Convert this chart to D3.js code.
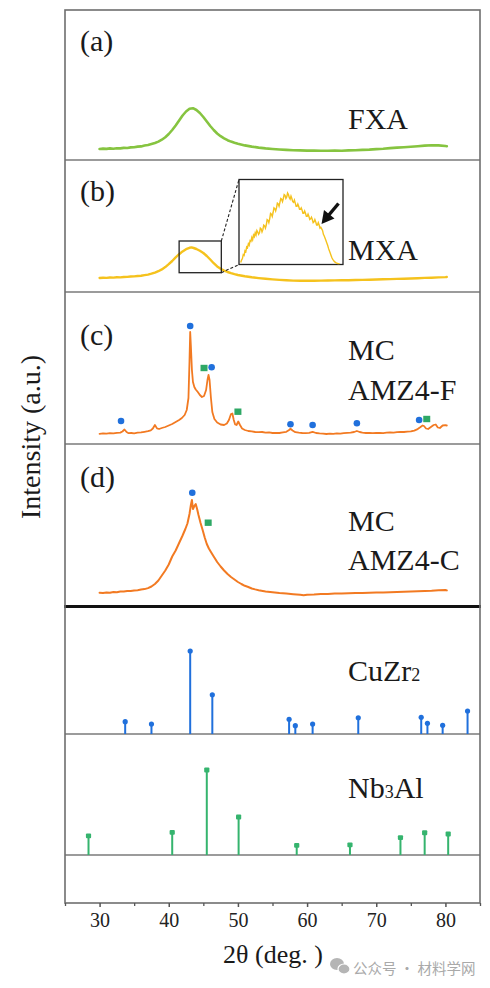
<!DOCTYPE html>
<html><head><meta charset="utf-8">
<script src="https://cdn.jsdelivr.net/npm/d3@7/dist/d3.min.js"></script>
<style>html,body{margin:0;padding:0;background:#fff;}svg{display:block;}</style>
</head><body>
<svg id="chart" width="490" height="988"></svg>
<script>
// ---------- DATA ----------
const xTicks = [30, 40, 50, 60, 70, 80];
const xMinorTicks = [25, 35, 45, 55, 65, 75, 85];
const panelLetters = ["(a)", "(b)", "(c)", "(d)"];
const sampleNames = ["FXA", "MXA", "MC\nAMZ4-F", "MC\nAMZ4-C"];

const fxa = [[30,3.0],[30.5,3.4],[31,3.1],[31.5,3.6],[32,3.3],[32.5,3.8],[33,3.6],[33.5,4.1],[34,4.0],[34.5,4.6],[35,4.8],[35.5,5.4],[36,5.6],[36.5,6.5],[37,7.0],[37.5,8.0],[38,9.0],[38.5,10.4],[39,12.3],[39.5,14.8],[40,18.0],[40.5,22.0],[41,26.5],[41.5,31.5],[42,36.5],[42.5,40.5],[43,43.2],[43.5,43.8],[44,42.0],[44.5,39.0],[45,35.0],[45.5,30.5],[46,26.0],[46.5,22.0],[47,18.5],[47.5,15.8],[48,13.6],[48.5,11.8],[49,10.4],[49.5,9.2],[50,8.2],[51,6.6],[52,5.4],[53,4.4],[54,3.6],[55,3.0],[56,2.5],[57,2.1],[58,1.8],[59,1.6],[60,1.4],[61,1.5],[62,1.3],[63,1.2],[64,1.4],[65,1.3],[66,1.6],[67,1.8],[68,2.1],[69,2.4],[70,2.9],[71,3.3],[72,3.9],[73,4.4],[74,4.8],[75,5.3],[76,5.8],[77,6.4],[78,6.8],[79,6.6],[80,6.0],[80.2,5.8]];

const mxa = [[30,4.0],[30.5,4.3],[31,4.1],[31.5,4.5],[32,4.4],[32.5,4.8],[33,4.6],[33.5,5.0],[34,5.1],[34.5,5.5],[35,5.6],[35.5,6.0],[36,6.3],[36.5,6.9],[37,7.4],[37.5,8.3],[38,9.4],[38.5,10.8],[39,12.6],[39.5,14.9],[40,17.8],[40.5,21.0],[41,24.6],[41.5,27.8],[42,30.6],[42.5,32.8],[43,34.2],[43.3,34.6],[43.6,34.0],[44,33.0],[44.5,31.2],[45,29.0],[45.5,26.0],[46,22.5],[46.5,18.8],[47,15.6],[47.5,13.2],[48,11.4],[48.5,10.0],[49,8.8],[49.5,7.8],[50,7.0],[51,5.7],[52,4.7],[53,3.9],[54,3.2],[55,2.6],[56,2.1],[57,1.7],[58,1.4],[59,1.3],[60,1.2],[61,1.3],[62,1.4],[63,1.5],[64,1.6],[65,1.7],[66,1.8],[67,2.0],[68,2.1],[69,2.3],[70,2.5],[71,2.7],[72,2.9],[73,3.1],[74,3.3],[75,3.5],[76,3.8],[77,4.1],[78,4.3],[79,4.6],[80,4.9],[80.2,5.0]];

const mxaZoom = [[41.6,2],[41.65,5],[41.7,7],[41.75,12],[41.8,11],[41.85,17],[41.9,16],[41.95,22],[42.0,21],[42.05,26],[42.1,24],[42.15,30],[42.2,29],[42.25,34],[42.3,31],[42.35,37],[42.4,35],[42.45,40],[42.5,37],[42.55,43],[42.6,41],[42.65,38],[42.7,40],[42.75,46],[42.8,45],[42.85,41],[42.9,44],[42.95,50],[43.0,49],[43.05,46],[43.1,50],[43.15,57],[43.2,56],[43.25,53],[43.3,58],[43.35,65],[43.4,64],[43.45,61],[43.5,66],[43.55,72],[43.6,71],[43.65,68],[43.7,72],[43.75,78],[43.8,77],[43.85,74],[43.9,79],[43.95,84],[44.0,83],[44.05,80],[44.1,84],[44.15,89],[44.2,88],[44.25,84],[44.3,86],[44.35,91],[44.4,89],[44.45,85],[44.5,83],[44.55,87],[44.6,84],[44.65,80],[44.7,79],[44.75,82],[44.8,78],[44.85,74],[44.9,74],[44.95,77],[45.0,74],[45.05,70],[45.1,70],[45.15,72],[45.2,69],[45.25,65],[45.3,65],[45.35,68],[45.4,65],[45.45,61],[45.5,61],[45.55,64],[45.6,61],[45.65,57],[45.7,58],[45.75,60],[45.8,57],[45.85,53],[45.9,54],[45.95,57],[46.0,54],[46.05,50],[46.1,50],[46.15,53],[46.2,50],[46.25,46],[46.3,47],[46.35,45],[46.4,43],[46.45,38],[46.5,36],[46.55,33],[46.6,30],[46.65,27],[46.7,24],[46.75,20],[46.8,17],[46.85,14],[46.9,11],[46.95,8],[47.0,6],[47.1,3],[47.2,1.5],[47.3,0.5],[47.4,0.5]];

const amz4f = [[30,2.2],[30.5,2.6],[31,2.3],[31.5,2.8],[32,2.6],[32.5,3.2],[33,3.4],[33.3,4.5],[33.6,6.5],[33.9,4.0],[34.2,2.8],[34.6,3.0],[35,2.6],[35.5,3.3],[36,3.6],[36.5,4.2],[37,4.8],[37.4,5.6],[37.7,7.5],[38.0,11.0],[38.3,7.6],[38.6,7.0],[39,8.0],[39.5,9.0],[40,10.5],[40.5,12.0],[41,14.0],[41.5,16.0],[41.9,18.0],[42.3,21.0],[42.6,26.0],[42.85,38.0],[43.0,75.0],[43.1,104.0],[43.2,90.0],[43.35,66.0],[43.5,54.0],[43.7,49.0],[43.9,46.5],[44.2,44.0],[44.5,41.0],[44.8,39.0],[45.1,40.0],[45.4,46.0],[45.6,56.0],[45.75,61.0],[45.9,56.0],[46.1,38.0],[46.3,24.0],[46.6,17.0],[47.0,13.5],[47.5,11.5],[48.0,11.0],[48.4,12.5],[48.7,16.0],[49.0,22.0],[49.2,22.5],[49.4,16.0],[49.6,11.5],[49.8,11.0],[50.05,14.5],[50.3,11.0],[50.6,7.5],[51,6.0],[51.5,5.0],[52,4.6],[52.5,4.0],[53,3.8],[53.5,4.0],[54,3.4],[54.5,3.6],[55,3.0],[55.5,3.2],[56,3.0],[56.5,3.6],[57,4.2],[57.4,6.0],[57.6,7.2],[57.9,5.5],[58.3,3.8],[58.8,3.3],[59.3,3.0],[59.8,2.8],[60.3,3.2],[60.8,4.2],[61.3,3.0],[61.8,2.6],[62.3,2.4],[62.8,2.0],[63.3,2.3],[63.8,2.1],[64.3,2.6],[64.8,2.4],[65.3,2.9],[65.8,3.2],[66.3,3.4],[66.8,4.0],[67.2,5.0],[67.6,4.0],[68.0,3.4],[68.5,3.0],[69,3.2],[69.5,2.8],[70,3.0],[70.5,3.1],[71,2.9],[71.5,3.3],[72,3.5],[72.5,3.3],[73,3.8],[73.5,4.0],[74,4.0],[74.5,4.4],[75,4.6],[75.5,5.4],[75.9,6.6],[76.3,8.5],[76.7,10.5],[76.9,10.0],[77.2,7.5],[77.5,7.0],[77.9,9.0],[78.3,11.0],[78.6,11.5],[78.9,8.5],[79.2,8.0],[79.6,10.5],[80,10.8],[80.2,10.5]];

const amz4c = [[30,3.3],[30.5,3.0],[31,3.6],[31.5,3.3],[32,4.0],[32.5,3.8],[33,4.5],[33.5,4.4],[34,5.0],[34.5,5.0],[35,5.6],[35.5,5.8],[36,6.4],[36.5,6.9],[37,7.9],[37.5,9.5],[38,12.0],[38.5,15.5],[39,20.5],[39.5,25.5],[40,31.5],[40.5,39.5],[41,45.5],[41.5,53.0],[42,60.5],[42.4,67.0],[42.7,72.5],[43.0,82.0],[43.2,91.0],[43.35,96.0],[43.5,87.0],[43.7,90.0],[43.9,92.0],[44.1,87.0],[44.3,81.0],[44.6,73.0],[44.9,66.0],[45.2,58.5],[45.5,52.0],[45.8,47.5],[46.1,44.0],[46.5,39.5],[47,34.0],[47.5,29.5],[48,25.5],[48.5,22.0],[49,19.0],[49.5,16.5],[50,14.0],[50.5,12.0],[51,10.2],[51.5,9.0],[52,7.5],[52.5,6.6],[53,5.8],[54,4.6],[55,3.8],[56,3.0],[57,2.4],[58,1.8],[59,1.2],[59.5,0.8],[60,1.3],[61,1.5],[62,1.9],[63,2.0],[64,2.4],[65,2.6],[66,2.8],[67,3.0],[68,3.1],[69,3.3],[70,3.5],[71,3.6],[72,3.8],[73,4.0],[74,4.2],[75,4.4],[76,4.7],[77,5.0],[78,5.3],[79,5.8],[80,6.0],[80.2,5.6]];

// phase markers on measured patterns: [2theta, intensity]
const cuzr2MarksC = [[33.1,15],[43.1,110],[46.2,68.7],[57.6,11.7],[60.8,11],[67.2,12.7],[76.2,16]];
const nb3alMarksC = [[45.1,68],[50.0,24.3],[77.3,17]];
const cuzr2MarksD = [[43.4,103.3]];
const nb3alMarksD = [[45.7,73.3]];

// reference stick patterns (relative intensity)
const cuzr2Pos = [33.7, 37.5, 43.1, 46.3, 57.4, 58.3, 60.8, 67.4, 76.5, 77.4, 79.6, 83.2];
const cuzr2Int = [14.8, 12.0, 100, 47.3, 17.7, 10.0, 12.0, 19.6, 20.1, 12.9, 10.5, 27.7];
const nb3alPos = [28.4, 40.5, 45.5, 50.1, 58.5, 66.2, 73.5, 77.0, 80.4];
const nb3alInt = [22.4, 26.7, 100, 44.7, 11.4, 11.8, 20.4, 26.2, 24.7];

// ---------- LAYOUT ----------
const L = 65, R = 480, T = 10, B = 903;
const serif = "'Liberation Serif','Times New Roman',Times,serif";
const cGreen = "#86c440", cYellow = "#f5c21d", cOrange = "#f27a22",
      cBlue = "#2070dc", cSq = "#2ea865", cStick = "#35b46e";

const svg = d3.select("#chart");
const x = d3.scaleLinear().domain([25, 85]).range([L, R]);

const yA = d3.scaleLinear().domain([0, 100]).range([152, 52]);
const yB = d3.scaleLinear().domain([0, 100]).range([282, 182]);
const yC = d3.scaleLinear().domain([0, 100]).range([436, 336]);
const yD = d3.scaleLinear().domain([0, 100]).range([596, 496]);
const yS1 = d3.scaleLinear().domain([0, 100]).range([734, 651]);
const yS2 = d3.scaleLinear().domain([0, 100]).range([855, 770]);

function drawCurve(data, y, color, w) {
  svg.append("path").datum(data)
    .attr("fill", "none").attr("stroke", color).attr("stroke-width", w)
    .attr("stroke-linejoin", "round").attr("stroke-linecap", "round")
    .attr("d", d3.line().x(d => x(d[0])).y(d => y(d[1])));
}
drawCurve(fxa, yA, cGreen, 2.6);
drawCurve(mxa, yB, cYellow, 2.4);
drawCurve(amz4f, yC, cOrange, 1.8);
drawCurve(amz4c, yD, cOrange, 2.0);

// inset in panel (b)
const sb = {x0: 41.5, x1: 47.6, y0: 9.3, y1: 41};
const sx0 = x(sb.x0), sx1 = x(sb.x1), sy0 = yB(sb.y1), sy1 = yB(sb.y0);
svg.append("rect").attr("x", sx0).attr("y", sy0).attr("width", sx1 - sx0).attr("height", sy1 - sy0)
  .attr("fill", "none").attr("stroke", "#222").attr("stroke-width", 1.3);
const big = {l: 239, r: 343, t: 179.5, b: 264.5};
svg.append("rect").attr("x", big.l).attr("y", big.t).attr("width", big.r - big.l).attr("height", big.b - big.t)
  .attr("fill", "#fff").attr("stroke", "#222").attr("stroke-width", 1.3);
svg.append("line").attr("x1", sx1).attr("y1", sy0).attr("x2", big.l).attr("y2", big.t)
  .attr("stroke", "#222").attr("stroke-width", 1.1).attr("stroke-dasharray", "3,2");
svg.append("line").attr("x1", sx1).attr("y1", sy1).attr("x2", big.l).attr("y2", big.b)
  .attr("stroke", "#222").attr("stroke-width", 1.1).attr("stroke-dasharray", "3,2");
const ix = d3.scaleLinear().domain([41.5, 47.6]).range([big.l, big.r]);
const iy = d3.scaleLinear().domain([0, 100]).range([264, 186]);
svg.append("path").datum(mxaZoom).attr("fill", "none").attr("stroke", cYellow).attr("stroke-width", 1.4)
  .attr("d", d3.line().x(d => ix(d[0])).y(d => iy(d[1])));
// arrow
svg.append("line").attr("x1", 338.5).attr("y1", 203.5).attr("x2", 328).attr("y2", 216)
  .attr("stroke", "#111").attr("stroke-width", 3.4);
svg.append("path").attr("d", "M321.5,224 L324,210 L334.5,218.5 Z").attr("fill", "#111");

// markers
function circles(arr, y) {
  svg.append("g").selectAll("circle").data(arr).join("circle")
    .attr("cx", d => x(d[0])).attr("cy", d => y(d[1])).attr("r", 3.3).attr("fill", cBlue);
}
function squares(arr, y) {
  svg.append("g").selectAll("rect").data(arr).join("rect")
    .attr("x", d => x(d[0]) - 3.5).attr("y", d => y(d[1]) - 3.2).attr("width", 7).attr("height", 6.4).attr("fill", cSq);
}
circles(cuzr2MarksC, yC); squares(nb3alMarksC, yC);
circles(cuzr2MarksD, yD); squares(nb3alMarksD, yD);

// stick patterns
function sticks(pos, ints, y, color, head) {
  const g = svg.append("g");
  const d = pos.map((p, i) => [p, ints[i]]);
  g.selectAll("line").data(d).join("line")
    .attr("x1", d => x(d[0])).attr("x2", d => x(d[0]))
    .attr("y1", y(0)).attr("y2", d => y(d[1]))
    .attr("stroke", color).attr("stroke-width", 2);
  if (head === "circle") {
    g.selectAll("circle").data(d).join("circle")
      .attr("cx", d => x(d[0])).attr("cy", d => y(d[1])).attr("r", 2.6).attr("fill", color);
  } else {
    g.selectAll("rect").data(d).join("rect")
      .attr("x", d => x(d[0]) - 2.6).attr("y", d => y(d[1]) - 2.4).attr("width", 5.2).attr("height", 4.8)
      .attr("rx", 1).attr("fill", color);
  }
}

// separators
const gray = "#7a7a7a";
[160, 292, 444].forEach(yy => svg.append("line").attr("x1", L).attr("x2", R).attr("y1", yy).attr("y2", yy)
  .attr("stroke", gray).attr("stroke-width", 1.4));
[yS1(0), yS2(0)].forEach(yy => svg.append("line").attr("x1", L).attr("x2", R).attr("y1", yy).attr("y2", yy)
  .attr("stroke", gray).attr("stroke-width", 1.4));

sticks(cuzr2Pos, cuzr2Int, yS1, cBlue, "circle");
sticks(nb3alPos, nb3alInt, yS2, cStick, "square");

svg.append("line").attr("x1", L - 1).attr("x2", R + 1).attr("y1", 606.5).attr("y2", 606.5)
  .attr("stroke", "#111").attr("stroke-width", 3);

// frame
svg.append("rect").attr("x", L).attr("y", T).attr("width", R - L).attr("height", B - T)
  .attr("fill", "none").attr("stroke", "#6e6e6e").attr("stroke-width", 1.6);

// x axis
const xAxis = d3.axisBottom(x).tickValues(xTicks).tickSize(4).tickPadding(6).tickFormat(d3.format("d"));
const ga = svg.append("g").attr("transform", `translate(0,${B})`).call(xAxis);
ga.select(".domain").remove();
ga.selectAll(".tick line").attr("stroke", "#555").attr("stroke-width", 1.5);
ga.selectAll(".tick text").attr("font-family", serif).attr("font-size", 20).attr("fill", "#222");
const gm = svg.append("g").attr("transform", `translate(0,${B})`)
  .call(d3.axisBottom(x).tickValues(xMinorTicks).tickSize(3).tickFormat(""));
gm.select(".domain").remove();
gm.selectAll(".tick line").attr("stroke", "#555").attr("stroke-width", 1.3);

// texts
function txt(s, xx, yy, size, anchor) {
  return svg.append("text").attr("x", xx).attr("y", yy).attr("font-family", serif)
    .attr("font-size", size).attr("fill", "#1a1a1a").attr("text-anchor", anchor || "start").text(s);
}
const letterY = [51, 201, 345, 487];
panelLetters.forEach((s, i) => txt(s, 80, letterY[i], 30));

const nameLines = [[129], [260], [360, 400], [531, 570]];
sampleNames.forEach((s, i) => s.split("\n").forEach((line, j) => txt(line, 348, nameLines[i][j], 30)));

const t1 = txt("CuZr", 348, 681, 30); t1.append("tspan").attr("font-size", 18).text("2");
const t2 = txt("Nb", 348, 798, 30); t2.append("tspan").attr("font-size", 18).text("3"); t2.append("tspan").text("Al");

txt("2θ (deg. )", 273, 963, 26, "middle");
svg.append("text").attr("transform", "translate(40,437) rotate(-90)").attr("text-anchor", "middle")
  .attr("font-family", serif).attr("font-size", 28).attr("fill", "#1a1a1a").text("Intensity (a.u.)");

// watermark
const wm = svg.append("g").attr("fill", "#b5b5b5");
wm.append("ellipse").attr("cx", 337).attr("cy", 964).attr("rx", 7).attr("ry", 6);
wm.append("ellipse").attr("cx", 344).attr("cy", 969).attr("rx", 6).attr("ry", 5).attr("stroke", "#fff").attr("stroke-width", 1.2);
svg.append("text").attr("x", 353).attr("y", 974).attr("font-family", "'Noto Sans CJK SC',sans-serif")
  .attr("font-size", 14.5).attr("fill", "#a9a9a9").text("公众号 · 材料学网");
</script>
</body></html>
